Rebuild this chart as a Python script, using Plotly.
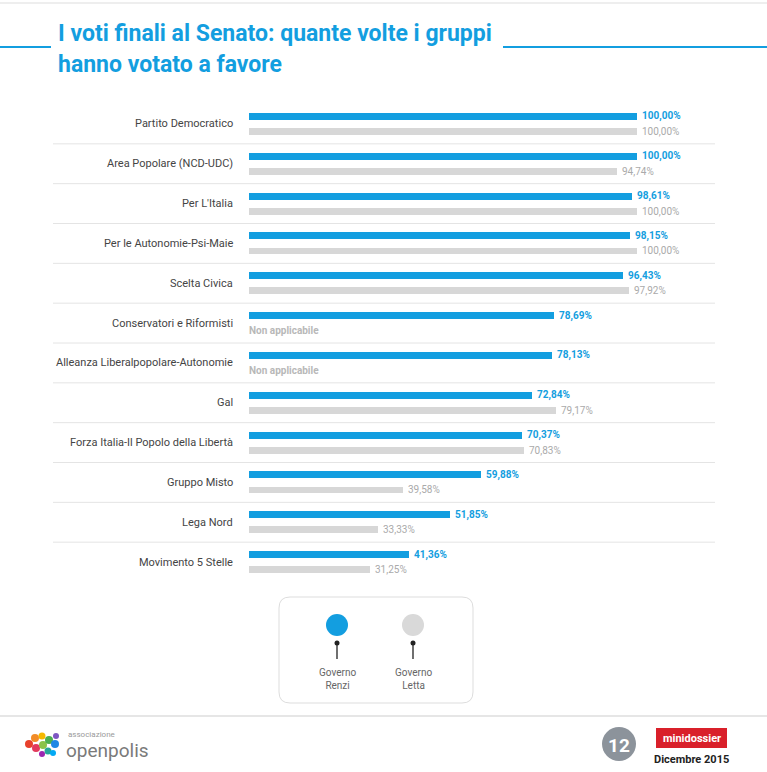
import plotly.graph_objects as go

groups = [
    "Partito Democratico",
    "Area Popolare (NCD-UDC)",
    "Per L'Italia",
    "Per le Autonomie-Psi-Maie",
    "Scelta Civica",
    "Conservatori e Riformisti",
    "Alleanza Liberalpopolare-Autonomie",
    "Gal",
    "Forza Italia-Il Popolo della Libertà",
    "Gruppo Misto",
    "Lega Nord",
    "Movimento 5 Stelle",
]
renzi = [100.00, 100.00, 98.61, 98.15, 96.43, 78.69, 78.13, 72.84, 70.37, 59.88, 51.85, 41.36]
letta = [100.00, 94.74, 100.00, 100.00, 97.92, None, None, 79.17, 70.83, 39.58, 33.33, 31.25]
series_names = ["Governo Renzi", "Governo Letta"]
na_text = "Non applicabile"

BLUE = "#139ee0"
GREY = "#d7d7d7"
W, H = 767, 772
L, R = 249, 637       # plot area pixels (x)
T, B = 104, 582       # plot area pixels (y)
TF = "Roboto"


def px(x):
    return (x - L) / (R - L)


def py(y):
    return (B - y) / (B - T)


def fmt(v):
    return f"{v:.2f}".replace(".", ",") + "%"


n = len(groups)
off = 0.19
y_blue = [i - off for i in range(n)]
y_grey = [i + off for i in range(n)]

fig = go.Figure()
fig.add_trace(go.Bar(x=renzi, y=y_blue, orientation="h", width=0.175,
                     marker=dict(color=BLUE, line=dict(width=0)),
                     name=series_names[0], hoverinfo="skip"))
fig.add_trace(go.Bar(x=[v if v is not None else 0 for v in letta], y=y_grey,
                     orientation="h", width=0.175,
                     marker=dict(color=GREY, line=dict(width=0)),
                     name=series_names[1], hoverinfo="skip"))

ann = []
shapes = []
for i, g in enumerate(groups):
    ann.append(dict(x=0, y=i, xref="x", yref="y", text=g, showarrow=False,
                    xanchor="right", yanchor="middle", xshift=-14,
                    font=dict(family="Roboto", size=11, color="#444")))
    ann.append(dict(x=renzi[i], y=y_blue[i], xref="x", yref="y", text="<b>" + fmt(renzi[i]) + "</b>",
                    showarrow=False, xanchor="left", yanchor="middle", xshift=3,
                    font=dict(family="Roboto", size=10, color=BLUE)))
    if letta[i] is None:
        ann.append(dict(x=0, y=y_grey[i], xref="x", yref="y", text="<b>" + na_text + "</b>",
                        showarrow=False, xanchor="left", yanchor="middle", xshift=-2,
                        font=dict(family="Roboto", size=10, color="#b8b8b8")))
    else:
        ann.append(dict(x=letta[i], y=y_grey[i], xref="x", yref="y", text=fmt(letta[i]),
                        showarrow=False, xanchor="left", yanchor="middle", xshift=3,
                        font=dict(family="Roboto", size=10, color="#aaaaaa")))
    if i < n - 1:
        shapes.append(dict(type="line", xref="paper", yref="y", x0=px(53), x1=px(715),
                           y0=i + 0.5, y1=i + 0.5, line=dict(color="#e4e4e4", width=1)))

# Title
ann.append(dict(x=px(56), y=py(33), xref="paper", yref="paper", showarrow=False,
                text="<b>I voti finali al Senato: quante volte i gruppi</b>",
                xanchor="left", yanchor="middle", font=dict(family=TF, size=23, color=BLUE)))
ann.append(dict(x=px(56), y=py(64), xref="paper", yref="paper", showarrow=False,
                text="<b>hanno votato a favore</b>",
                xanchor="left", yanchor="middle", font=dict(family=TF, size=23, color=BLUE)))
shapes.append(dict(type="line", xref="paper", yref="paper", x0=px(0), x1=px(51),
                   y0=py(47), y1=py(47), line=dict(color=BLUE, width=2)))
shapes.append(dict(type="line", xref="paper", yref="paper", x0=px(503), x1=px(767),
                   y0=py(47), y1=py(47), line=dict(color=BLUE, width=2)))
shapes.append(dict(type="line", xref="paper", yref="paper", x0=px(0), x1=px(767),
                   y0=py(3), y1=py(3), line=dict(color="#eeeeee", width=2)))


def rrect(x0, y0, x1, y1, r):
    return (f"M {px(x0 + r)},{py(y0)} L {px(x1 - r)},{py(y0)} "
            f"Q {px(x1)},{py(y0)} {px(x1)},{py(y0 + r)} "
            f"L {px(x1)},{py(y1 - r)} Q {px(x1)},{py(y1)} {px(x1 - r)},{py(y1)} "
            f"L {px(x0 + r)},{py(y1)} Q {px(x0)},{py(y1)} {px(x0)},{py(y1 - r)} "
            f"L {px(x0)},{py(y0 + r)} Q {px(x0)},{py(y0)} {px(x0 + r)},{py(y0)} Z")


shapes.append(dict(type="path", xref="paper", yref="paper", path=rrect(279, 597, 473, 703, 11),
                   line=dict(color="#dddddd", width=1), fillcolor="rgba(0,0,0,0)"))
for cx, col, nm in [(337, BLUE, series_names[0]), (413, "#d9d9d9", series_names[1])]:
    shapes.append(dict(type="circle", xref="paper", yref="paper",
                       x0=px(cx - 11), x1=px(cx + 11), y0=py(625 + 11), y1=py(625 - 11),
                       fillcolor=col, line=dict(width=0)))
    shapes.append(dict(type="line", xref="paper", yref="paper", x0=px(cx), x1=px(cx),
                       y0=py(643), y1=py(659), line=dict(color="#222", width=1.3)))
    shapes.append(dict(type="circle", xref="paper", yref="paper",
                       x0=px(cx - 2.5), x1=px(cx + 2.5), y0=py(643 + 2.5), y1=py(643 - 2.5),
                       fillcolor="#222", line=dict(width=0)))
    a, b = nm.split(" ")
    ann.append(dict(x=px(cx), y=py(679), xref="paper", yref="paper", showarrow=False,
                    text=a + "<br>" + b, xanchor="center", yanchor="middle", align="center",
                    font=dict(family="Roboto", size=10, color="#666")))

# Footer
shapes.append(dict(type="line", xref="paper", yref="paper", x0=px(0), x1=px(767),
                   y0=py(716), y1=py(716), line=dict(color="#e6e6e6", width=2)))
blobs = [(29, 744, "#e8412c", 4), (35, 738, "#f28c28", 4), (36, 748, "#e23a5d", 4),
         (42, 736, "#f5b800", 3.5), (43, 745, "#8bc34a", 4), (49, 740, "#4caf50", 4),
         (48, 751, "#26a69a", 3.5), (55, 744, "#1e88e5", 4), (56, 736, "#7e57c2", 3),
         (42, 754, "#9c27b0", 3), (53, 753, "#03a9f4", 3)]
for bx, by, bc, br in blobs:
    shapes.append(dict(type="circle", xref="paper", yref="paper",
                       x0=px(bx - br), x1=px(bx + br), y0=py(by + br), y1=py(by - br),
                       fillcolor=bc, line=dict(width=0)))
ann.append(dict(x=px(66), y=py(734), xref="paper", yref="paper", showarrow=False,
                text="associazione", xanchor="left", yanchor="middle",
                font=dict(family="Roboto", size=8, color="#9a9a9a")))
ann.append(dict(x=px(64), y=py(750), xref="paper", yref="paper", showarrow=False,
                text="openpolis", xanchor="left", yanchor="middle",
                font=dict(family="Roboto", size=19, color="#7a7a7a")))
shapes.append(dict(type="circle", xref="paper", yref="paper",
                   x0=px(602), x1=px(636), y0=py(761), y1=py(727),
                   fillcolor="#8c939b", line=dict(width=0)))
ann.append(dict(x=px(619), y=py(745), xref="paper", yref="paper", showarrow=False,
                text="<b>12</b>", xanchor="center", yanchor="middle",
                font=dict(family=TF, size=19, color="white")))
shapes.append(dict(type="rect", xref="paper", yref="paper",
                   x0=px(656), x1=px(727), y0=py(748), y1=py(728),
                   fillcolor="#d9202a", line=dict(width=0)))
ann.append(dict(x=px(691.5), y=py(738), xref="paper", yref="paper", showarrow=False,
                text="<b>minidossier</b>", xanchor="center", yanchor="middle",
                font=dict(family="Roboto", size=11, color="white")))
ann.append(dict(x=px(691.5), y=py(759), xref="paper", yref="paper", showarrow=False,
                text="<b>Dicembre 2015</b>", xanchor="center", yanchor="middle",
                font=dict(family=TF, size=11, color="#222")))

fig.update_layout(
    width=W, height=H,
    margin=dict(l=L, r=W - R, t=T, b=H - B, pad=0),
    paper_bgcolor="white", plot_bgcolor="white",
    barmode="overlay", showlegend=False, bargap=0,
    xaxis=dict(range=[0, 100], visible=False, fixedrange=True),
    yaxis=dict(range=[n - 0.5, -0.5], visible=False, fixedrange=True),
    annotations=ann, shapes=shapes,
)
fig.write_html("out.html", config={"displayModeBar": False})
